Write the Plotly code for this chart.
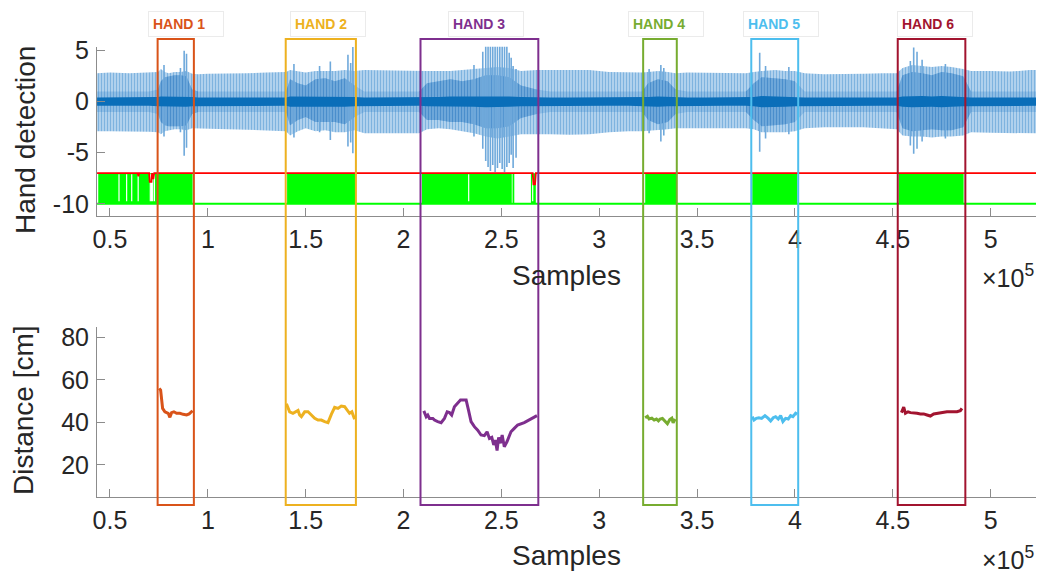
import plotly.graph_objects as go

S = 1e5  # samples per axis unit (axis shows x10^5)

# ---------------- tick labels ----------------
x_ticks = [0.5, 1, 1.5, 2, 2.5, 3, 3.5, 4, 4.5, 5]
x_ticktext = ['0.5', '1', '1.5', '2', '2.5', '3', '3.5', '4', '4.5', '5']
y1_ticks = [5, 0, -5, -10]
y2_ticks = [20, 40, 60, 80]

# ---------------- hand detection signal (envelope readings, x in 1e5 samples) ----------------
env_x = [0.434, 0.50, 0.60, 0.70, 0.745, 0.76, 0.78, 0.80, 0.83, 0.86, 0.89, 0.92, 0.95, 1.0, 1.1, 1.2,
         1.3, 1.4, 1.42, 1.46, 1.50, 1.55, 1.60, 1.65, 1.70, 1.75, 1.8, 1.9, 2.0, 2.08, 2.12, 2.18, 2.24,
         2.30, 2.36, 2.42, 2.48, 2.54, 2.60, 2.68, 2.75, 2.85, 2.95, 3.05, 3.15, 3.22, 3.25, 3.30, 3.35,
         3.39, 3.45, 3.55, 3.65, 3.75, 3.79, 3.83, 3.90, 3.95, 4.00, 4.05, 4.15, 4.25, 4.35, 4.45, 4.52,
         4.55, 4.60, 4.65, 4.70, 4.75, 4.80, 4.86, 4.90, 5.0, 5.1, 5.2, 5.232]
env_hi = [2.8, 2.85, 2.8, 2.85, 2.9, 3.2, 2.9, 2.8, 2.9, 2.9, 3.0, 2.75, 2.7, 2.75, 2.75, 2.8,
          2.85, 2.9, 3.1, 2.95, 2.85, 3.0, 3.0, 3.0, 3.1, 3.0, 3.1, 3.05, 3.05, 3.0, 3.0, 3.0, 3.0,
          3.1, 3.2, 3.3, 3.4, 3.3, 3.0, 3.1, 3.1, 3.15, 3.1, 2.9, 2.85, 2.85, 2.9, 3.0, 2.9,
          2.8, 2.85, 2.85, 2.85, 2.8, 2.9, 3.0, 3.1, 3.0, 3.0, 2.8, 2.7, 2.7, 2.75, 2.8, 2.8,
          3.3, 3.6, 3.5, 3.4, 3.5, 3.4, 3.2, 3.0, 3.0, 2.95, 3.1, 3.1]
env_lo = [-2.9, -2.9, -2.9, -2.95, -3.0, -3.2, -2.9, -2.8, -2.7, -2.7, -2.8, -2.6, -2.6, -2.65, -2.7, -2.75,
          -2.8, -2.9, -3.3, -2.9, -2.6, -2.9, -2.8, -3.0, -3.0, -2.8, -3.1, -3.1, -3.1, -3.1, -2.7, -2.6, -2.7,
          -2.9, -3.1, -3.4, -3.6, -3.4, -3.2, -3.2, -3.2, -3.25, -3.2, -3.0, -2.9, -2.9, -2.9, -2.8, -2.7,
          -2.6, -2.6, -2.6, -2.6, -2.6, -2.7, -3.0, -3.0, -3.0, -2.9, -2.6, -2.5, -2.5, -2.5, -2.6, -2.7,
          -3.3, -3.4, -3.4, -3.5, -3.4, -3.4, -3.3, -3.0, -3.05, -3.1, -3.1, -3.1]
mid_hi = [1.0, 1.0, 1.0, 1.0, 1.2, 2.0, 2.4, 2.5, 2.6, 2.6, 2.5, 1.2, 1.0, 1.0, 1.0, 1.0,
          1.0, 1.0, 2.2, 1.8, 1.6, 2.2, 2.3, 2.0, 2.3, 1.6, 1.0, 1.0, 1.0, 1.0, 1.8, 2.0, 2.2,
          2.0, 2.2, 2.6, 2.6, 2.4, 1.6, 1.2, 1.0, 1.0, 1.0, 1.0, 1.0, 1.0, 1.8, 2.2, 2.0,
          1.2, 1.0, 1.0, 1.0, 1.0, 1.8, 2.4, 2.3, 2.2, 2.0, 1.0, 1.0, 1.0, 1.0, 1.0, 1.0,
          2.6, 2.9, 2.8, 2.6, 2.9, 2.8, 2.5, 1.0, 1.0, 1.0, 1.0, 1.0]
mid_lo = [-1.0, -1.0, -1.0, -1.0, -1.2, -2.0, -2.3, -2.4, -2.4, -2.4, -2.3, -1.2, -1.0, -1.0, -1.0, -1.0,
          -1.0, -1.0, -2.3, -1.8, -1.5, -2.0, -2.0, -2.0, -2.2, -1.5, -1.0, -1.0, -1.0, -1.0, -1.8, -1.8, -2.0,
          -2.0, -2.2, -2.6, -2.6, -2.4, -1.6, -1.2, -1.0, -1.0, -1.0, -1.0, -1.0, -1.0, -1.8, -2.2, -2.0,
          -1.2, -1.0, -1.0, -1.0, -1.0, -1.8, -2.4, -2.3, -2.2, -2.0, -1.0, -1.0, -1.0, -1.0, -1.0, -1.0,
          -2.6, -2.9, -2.8, -2.7, -2.8, -2.8, -2.5, -1.0, -1.0, -1.0, -1.0, -1.0]
core_half = [0.4, 0.4, 0.4, 0.4, 0.45, 0.5, 0.5, 0.5, 0.5, 0.5, 0.5, 0.45, 0.4, 0.4, 0.4, 0.4,
             0.4, 0.4, 0.5, 0.5, 0.5, 0.5, 0.5, 0.5, 0.5, 0.45, 0.4, 0.4, 0.4, 0.4, 0.45, 0.45, 0.5,
             0.5, 0.5, 0.55, 0.55, 0.5, 0.45, 0.4, 0.4, 0.4, 0.4, 0.4, 0.4, 0.4, 0.45, 0.5, 0.45,
             0.4, 0.4, 0.4, 0.4, 0.4, 0.45, 0.55, 0.5, 0.5, 0.45, 0.4, 0.4, 0.4, 0.4, 0.4, 0.4,
             0.5, 0.55, 0.55, 0.5, 0.55, 0.5, 0.45, 0.4, 0.4, 0.4, 0.4, 0.4]

spike_x = [0.776, 0.86, 0.879, 0.891,
           1.44, 1.571, 1.626, 1.716, 1.73, 1.741,
           2.36, 2.405, 2.42, 2.432, 2.444, 2.456, 2.468, 2.48, 2.492, 2.504, 2.516, 2.528, 2.54, 2.55, 2.56, 2.575,
           3.255, 3.315, 3.33,
           3.82, 3.85, 3.969,
           4.59, 4.607, 4.624, 4.65, 4.769]
spike_hi = [3.6, 3.3, 5.0, 4.7,
            3.7, 3.5, 3.95, 4.6, 3.8, 5.35,
            3.6, 4.9, 5.5, 5.5, 5.5, 5.5, 5.5, 5.5, 5.5, 5.5, 5.5, 5.5, 4.8, 4.3, 3.5, 3.2,
            3.2, 3.6, 3.3,
            4.8, 3.5, 3.4,
            4.0, 5.3, 4.9, 4.1, 3.7]
spike_lo = [-3.4, -3.0, -5.3, -4.5,
            -3.5, -3.0, -3.75, -4.4, -4.0, -5.05,
            -3.4, -4.6, -5.8, -6.4, -6.8, -6.2, -6.9, -6.5, -6.0, -6.6, -6.9, -6.4, -6.0, -5.2, -6.5, -5.5,
            -3.1, -3.9, -3.3,
            -4.9, -3.6, -3.2,
            -4.3, -5.1, -4.6, -3.9, -3.6]

# ---------------- detection levels ----------------
green_start = [0.440, 1.405, 2.094, 2.557, 2.651, 3.235, 3.782, 4.531]
green_end = [0.922, 1.755, 2.553, 2.566, 2.676, 3.394, 4.012, 4.862]
gap_x = [0.546, 0.585, 0.611, 0.644, 0.706, 0.712, 0.718, 0.727, 2.333, 2.660]
red_x = [0.434, 0.641, 0.645, 0.649, 0.700, 0.703, 0.712, 0.715, 0.718, 0.722, 0.726,
         2.660, 2.664, 2.672, 2.676, 5.232]
red_y = [-7.0, -7.0, -7.3, -7.0, -7.0, -7.85, -7.85, -7.0, -7.5, -7.5, -7.0,
         -7.0, -8.1, -8.1, -7.0, -7.0]
green_level = -10.0
red_level = -7.0

# ---------------- distance per hand ----------------
h1_x = [0.7515, 0.7587, 0.7689, 0.7806, 0.7974, 0.806, 0.8148, 0.8265, 0.8403, 0.8571, 0.874, 0.8913, 0.9046, 0.9133, 0.9219]
h1_y = [56.0, 55.2, 46.6, 45.0, 44.3, 42.4, 44.6, 45.0, 44.3, 44.3, 43.8, 43.5, 44.0, 45.0, 45.5]
h2_x = [1.4015, 1.41, 1.418, 1.435, 1.452, 1.461, 1.469, 1.478, 1.495, 1.512, 1.529, 1.546, 1.563, 1.58,
        1.597, 1.614, 1.631, 1.648, 1.665, 1.682, 1.699, 1.711, 1.724, 1.736, 1.75]
h2_y = [48.8, 46.5, 45.0, 44.3, 45.0, 45.6, 43.5, 42.7, 45.0, 45.0, 43.5, 41.9, 41.1, 41.1,
        40.4, 39.9, 43.8, 47.1, 46.6, 47.7, 47.4, 45.8, 44.3, 45.0, 41.5]
h3_x = [2.1037, 2.1158, 2.124, 2.1327, 2.1497, 2.1582, 2.175, 2.192, 2.209, 2.223, 2.235, 2.246, 2.26, 2.277,
        2.291, 2.303, 2.32, 2.332, 2.345, 2.362, 2.379, 2.396, 2.413, 2.427, 2.439, 2.451, 2.461, 2.469,
        2.478, 2.486, 2.495, 2.504, 2.515, 2.529, 2.549, 2.566, 2.583, 2.617, 2.651, 2.682]
h3_y = [45.4, 42.7, 43.5, 41.9, 41.9, 41.1, 40.4, 39.9, 41.9, 45.0, 44.6, 43.5, 47.4, 49.0,
        50.5, 50.5, 50.5, 45.8, 40.4, 38.0, 36.4, 34.1, 33.8, 35.6, 32.5, 33.0, 29.4, 31.7,
        26.8, 33.0, 30.2, 34.1, 28.6, 31.0, 35.6, 37.2, 38.8, 39.9, 41.6, 43.2]
h4_x = [3.2347, 3.2464, 3.255, 3.2689, 3.2806, 3.2923, 3.3025, 3.3112, 3.323, 3.3367, 3.3484, 3.3605, 3.3709, 3.3776, 3.3878]
h4_y = [42.2, 42.9, 41.6, 42.0, 41.1, 41.6, 40.7, 41.6, 41.9, 40.7, 39.4, 41.4, 42.0, 39.8, 41.6]
h5_x = [3.782, 3.791, 3.8026, 3.8163, 3.83, 3.8469, 3.8638, 3.876, 3.8893, 3.9015, 3.9148, 3.927, 3.9388,
        3.9525, 3.9658, 3.978, 3.9898, 4.0036, 4.0117]
h5_y = [42.7, 41.1, 41.9, 42.2, 41.9, 43.2, 41.9, 40.7, 42.2, 42.7, 41.6, 43.2, 40.4, 41.9, 41.6, 43.2, 42.7, 44.3, 43.8]
h6_x = [4.5444, 4.5561, 4.5648, 4.5781, 4.5903, 4.6071, 4.624, 4.6413, 4.6582, 4.675, 4.6923, 4.7092, 4.726,
        4.7515, 4.777, 4.8026, 4.8281, 4.8454, 4.8536]
h6_y = [44.6, 47.2, 44.3, 45.0, 44.6, 44.6, 44.3, 44.0, 44.0, 43.5, 43.0, 44.0, 44.3, 44.6, 45.0, 45.0, 45.0, 45.5, 46.6]

# ---------------- hand windows ----------------
hand_names = ['HAND 1', 'HAND 2', 'HAND 3', 'HAND 4', 'HAND 5', 'HAND 6']
hand_colors = ['#D95319', '#EDB120', '#7E2F8E', '#77AC30', '#4DBEEE', '#A2142F']
hand_x0 = [0.7434, 1.398, 2.0867, 3.2245, 3.777, 4.5255]
hand_x1 = [0.9286, 1.7566, 2.6888, 3.3964, 4.0168, 4.8709]
label_x = [0.6939, 1.4184, 2.2296, 3.1464, 3.7332, 4.5204]

# ---------------- figure ----------------
FONT = 'Liberation Sans, Arial, Helvetica, sans-serif'
TXT = '#262626'
AX = '#8c8c8c'

fig = go.Figure()


def band(xv, hi, lo, bg, fg, solidity, size=3):
    xs = [v * S for v in xv] + [v * S for v in xv[::-1]]
    ys = list(hi) + list(lo[::-1])
    pattern = dict(shape='|', bgcolor=bg, fgcolor=fg, size=size, solidity=solidity, fillmode='replace') \
        if fg != bg else None
    fig.add_trace(go.Scatter(x=xs, y=ys, fill='toself', fillcolor=bg, mode='lines',
                             fillpattern=pattern,
                             line=dict(width=0, color=bg), hoverinfo='skip',
                             xaxis='x', yaxis='y', showlegend=False))


# outer light band and the +-1 band of the oscillating signal
band(env_x, env_hi, env_lo, '#B6D5EF', '#7EB3DF', 0.4)
band(env_x, mid_hi, mid_lo, '#92C0E6', '#68A4D9', 0.4)

# darker dense activity inside each hand window
for a, b in zip(hand_x0, hand_x1):
    idx = [i for i, v in enumerate(env_x) if a - 0.03 <= v <= b + 0.03]
    band([env_x[i] for i in idx], [mid_hi[i] for i in idx], [mid_lo[i] for i in idx],
         '#76ACDC', '#4A8ECC', 0.45)

sx, sy = [], []
for x, hi, lo in zip(spike_x, spike_hi, spike_lo):
    sx += [x * S, x * S, None]
    sy += [lo, hi, None]
fig.add_trace(go.Scatter(x=sx, y=sy, mode='lines', line=dict(color='#6FA9DB', width=1.6),
                         hoverinfo='skip', xaxis='x', yaxis='y', showlegend=False))

band(env_x, core_half, [-c for c in core_half], '#0A6EB9', '#0A6EB9', 0.5)

# green detection blocks
gx, gy = [], []
for a, b in zip(green_start, green_end):
    gx += [a * S, b * S, b * S, a * S, a * S, None]
    gy += [green_level, green_level, red_level, red_level, green_level, None]
fig.add_trace(go.Scatter(x=gx, y=gy, fill='toself', fillcolor='#00FF00', mode='lines',
                         line=dict(width=0, color='#00FF00'), hoverinfo='skip',
                         xaxis='x', yaxis='y', showlegend=False))
wx, wy = [], []
for x in gap_x:
    wx += [x * S, x * S, None]
    wy += [green_level + 0.25, red_level - 0.1, None]
fig.add_trace(go.Scatter(x=wx, y=wy, mode='lines', line=dict(color='white', width=1.2),
                         hoverinfo='skip', xaxis='x', yaxis='y', showlegend=False))
fig.add_trace(go.Scatter(x=[env_x[0] * S, env_x[-1] * S], y=[green_level, green_level], mode='lines',
                         line=dict(color='#00FF00', width=2), hoverinfo='skip',
                         xaxis='x', yaxis='y', showlegend=False))
fig.add_trace(go.Scatter(x=[v * S for v in red_x], y=red_y, mode='lines',
                         line=dict(color='#FF0000', width=1.8), hoverinfo='skip',
                         xaxis='x', yaxis='y', showlegend=False))

# distance lines
for hx, hy, c in zip([h1_x, h2_x, h3_x, h4_x, h5_x, h6_x],
                     [h1_y, h2_y, h3_y, h4_y, h5_y, h6_y], hand_colors):
    fig.add_trace(go.Scatter(x=[v * S for v in hx], y=hy, mode='lines',
                             line=dict(color=c, width=3), hoverinfo='skip',
                             xaxis='x2', yaxis='y2', showlegend=False))

# ---------------- layout geometry ----------------
W, H = 1038, 576
ML, MR, MT, MB = 97, 2, 39, 71
PW, PH = W - ML - MR, H - MT - MB


def py(p):  # pixel y -> paper
    return (H - MB - p) / PH


def px(p):  # pixel x -> paper
    return (p - ML) / PW


xrange_ = [0.4336 * S, 5.232 * S]
axis_common = dict(showline=True, linecolor=AX, linewidth=1, ticks='inside', ticklen=8,
                   tickcolor=AX, tickwidth=1, showgrid=False, zeroline=False, mirror=False,
                   automargin=False, tickfont=dict(family=FONT, size=25, color=TXT))

fig.update_layout(
    width=W, height=H,
    margin=dict(l=ML, r=MR, t=MT, b=MB, autoexpand=False),
    paper_bgcolor='white', plot_bgcolor='white',
    showlegend=False,
    xaxis=dict(domain=[0, 1], anchor='y', range=xrange_,
               tickvals=[v * S for v in x_ticks], ticktext=x_ticktext, ticklabelstandoff=1, **axis_common),
    yaxis=dict(domain=[py(216), py(46.7)], anchor='x', range=[-11.2, 5.39],
               tickvals=y1_ticks, ticktext=[str(v) for v in y1_ticks], ticklabelstandoff=2, **axis_common),
    xaxis2=dict(domain=[0, 1], anchor='y2', range=xrange_,
                tickvals=[v * S for v in x_ticks], ticktext=x_ticktext, ticklabelstandoff=1, **axis_common),
    yaxis2=dict(domain=[py(496.7), py(327.3)], anchor='x2', range=[5.1, 84.7],
                tickvals=y2_ticks, ticktext=[str(v) for v in y2_ticks], ticklabelstandoff=2, **axis_common),
)

shapes = []
annotations = []
for name, c, a, b, lx in zip(hand_names, hand_colors, hand_x0, hand_x1, label_x):
    shapes.append(dict(type='rect', xref='x', yref='paper', x0=a * S, x1=b * S, y0=0, y1=1,
                       line=dict(color=c, width=2), fillcolor='rgba(0,0,0,0)', layer='above'))
    annotations.append(dict(text='<b>' + name + '</b>', xref='x', yref='paper', x=lx * S, y=py(24),
                            xanchor='left', yanchor='middle', showarrow=False, align='left',
                            width=66, height=16, borderpad=4, borderwidth=1, bordercolor='#EBEBEB',
                            bgcolor='white', font=dict(family=FONT, size=14, color=c)))

title_font = dict(family=FONT, size=28, color=TXT)
annotations += [
    dict(text='Samples', xref='paper', yref='paper', x=px(566), y=py(275), showarrow=False,
         xanchor='center', yanchor='middle', font=title_font),
    dict(text='Samples', xref='paper', yref='paper', x=px(566), y=py(555), showarrow=False,
         xanchor='center', yanchor='middle', font=title_font),
    dict(text='Hand detection', xref='paper', yref='paper', x=px(25), y=py(140), showarrow=False,
         xanchor='center', yanchor='middle', textangle=-90, font=title_font),
    dict(text='Distance [cm]', xref='paper', yref='paper', x=px(23), y=py(410), showarrow=False,
         xanchor='center', yanchor='middle', textangle=-90, font=title_font),
    dict(text='\u00d710<sup>5</sup>', xref='paper', yref='paper', x=px(1036), y=py(276), showarrow=False,
         xanchor='right', yanchor='middle', font=dict(family=FONT, size=25, color=TXT)),
    dict(text='\u00d710<sup>5</sup>', xref='paper', yref='paper', x=px(1036), y=py(558), showarrow=False,
         xanchor='right', yanchor='middle', font=dict(family=FONT, size=25, color=TXT)),
]
fig.update_layout(shapes=shapes, annotations=annotations)

fig.write_html('out.html', config={'displayModeBar': False},
               post_script="document.body.style.margin='0';")
